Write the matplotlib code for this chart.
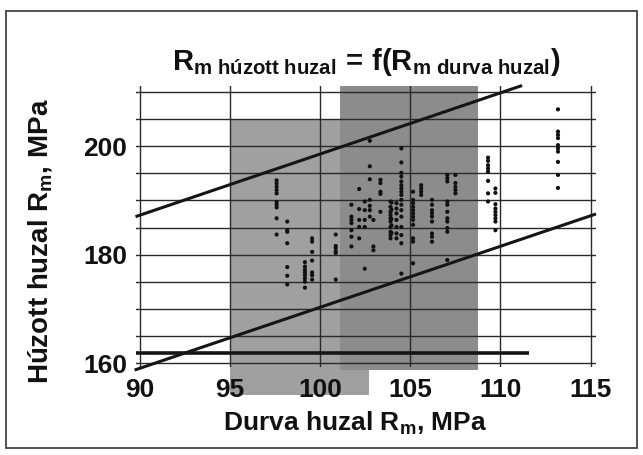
import matplotlib
matplotlib.use("Agg")
import matplotlib.pyplot as plt
from matplotlib.patches import Rectangle

plt.rcParams['font.family'] = ['Liberation Sans', 'DejaVu Sans']
plt.rcParams['mathtext.fontset'] = 'custom'
plt.rcParams['mathtext.rm'] = 'Liberation Sans'
plt.rcParams['mathtext.bf'] = 'Liberation Sans:bold'
plt.rcParams['mathtext.it'] = 'Liberation Sans:italic'

# ---------------- data ----------------
x_ticks = [90, 95, 100, 105, 110, 115]
y_grid = [160, 165, 170, 175, 180, 185, 190, 195, 200, 205, 210]
y_labelled = [160, 180, 200]

# measured points, grouped by column (x value, list of y values)
left_x = [97.58, 98.17, 99.15, 99.55, 100.86]
left_y = [
    [193.7, 193.1, 192.5, 191.9, 191.3, 189.7, 189.2, 188.7, 186.7, 183.7],
    [186.1, 184.5, 184.2, 182.1, 177.7, 176.1, 174.5],
    [178.6, 177.8, 177.2, 176.7, 176.2, 175.6, 175.0, 173.9],
    [183.0, 182.4, 180.5, 178.9, 176.7, 176.2, 175.4],
    [183.7, 181.6, 181.2, 180.6, 180.3, 175.4],
]
mid_x = [101.73, 102.16, 102.47, 102.75, 102.95, 103.34, 103.9, 103.95,
         104.23, 104.5, 105.15, 105.6, 106.2, 107.05, 107.5]
mid_y = [
    [189.2, 187.0, 186.4, 185.8, 184.5, 183.3, 181.5],
    [192.1, 188.4, 186.4, 185.1, 183.0],
    [189.8, 188.2, 186.4, 185.1, 177.4],
    [201.0, 196.3, 193.9, 190.1, 189.0, 188.2, 187.0],
    [186.4, 181.5, 180.8],
    [193.8, 193.2, 191.6, 191.2, 187.9],
    [189.8, 188.8, 187.9, 187.3, 186.7, 186.1, 185.1, 184.2, 183.6, 183.0],
    [189.6, 188.3, 186.6, 185.4, 184.0],
    [189.5, 188.5, 187.6, 186.4, 185.1, 183.9, 183.0],
    [199.6, 197.0, 195.1, 194.4, 193.5, 192.8, 192.2, 191.6, 191.0, 190.1,
     189.2, 188.2, 187.0, 185.1, 183.6, 182.1, 176.5],
    [191.6, 190.1, 189.5, 188.8, 188.2, 187.6, 187.0, 186.4, 185.5, 183.0,
     182.4, 178.4],
    [192.8, 192.2, 191.6, 191.0],
    [190.1, 189.2, 188.2, 187.6, 187.0, 186.1, 183.9, 183.3, 182.4],
    [194.7, 194.1, 193.5, 189.8, 189.2, 187.9, 186.7, 186.1, 184.9, 184.2, 179.0],
    [194.7, 193.2, 192.5, 191.9, 191.3],
]
right_x = [109.31, 109.72, 113.19]
right_y = [
    [197.9, 197.3, 196.5, 195.9, 195.3, 193.6, 191.3, 189.8],
    [192.2, 191.4, 189.3, 188.5, 187.9, 187.3, 186.7, 186.1, 184.5],
    [206.8, 202.7, 202.1, 201.5, 200.2, 199.6, 199.0, 197.1, 194.7, 192.3],
]

# band lines (end points)
upper_x = [89.75, 111.2]
upper_y = [187.0, 211.2]
lower_x = [89.7, 115.3]
lower_y = [158.7, 187.5]
limit_x = [89.75, 111.6]
limit_y = [161.9, 161.9]

# shaded ranges (x0, x1, y0, y1)
range_a = [95.0, 102.7, 154.1, 205.1]
range_b = [101.1, 108.75, 158.7, 211.2]

xlim = (89.75, 115.3)
ylim = (159.3, 211.2)

# ---------------- figure ----------------
W, H = 643, 455
fig = plt.figure(figsize=(W / 100, H / 100), dpi=100)
ax_left, ax_right, ax_top, ax_bottom = 135.5, 596.0, 85.5, 366.8
ax = fig.add_axes([ax_left / W, 1 - ax_bottom / H,
                   (ax_right - ax_left) / W, (ax_bottom - ax_top) / H])
ax.set_xlim(*xlim)
ax.set_ylim(*ylim)
for s in ax.spines.values():
    s.set_visible(False)

ax.add_patch(Rectangle((range_a[0], range_a[2]), range_a[1] - range_a[0],
                       range_a[3] - range_a[2], facecolor='#a0a0a0',
                       edgecolor='none', clip_on=False, zorder=1))
ax.add_patch(Rectangle((range_b[0], range_b[2]), range_b[1] - range_b[0],
                       range_b[3] - range_b[2], facecolor='#8c8c8c',
                       edgecolor='none', clip_on=False, zorder=1))

ax.set_xticks(x_ticks)
ax.set_xticklabels([str(v) for v in x_ticks])
ax.set_yticks(y_grid)
ax.set_yticklabels([str(v) if v in y_labelled else '' for v in y_grid])
ax.tick_params(length=0, labelsize=19, colors='#111111')
ax.tick_params(axis='x', pad=8)
ax.tick_params(axis='y', pad=6)
for lab in ax.get_xticklabels() + ax.get_yticklabels():
    lab.set_fontweight('bold')
ax.grid(True, color='#2a2a2a', linewidth=1.0, zorder=2)
ax.set_axisbelow(False)

ax.plot(upper_x, upper_y, color='#151515', lw=2.2, clip_on=False, zorder=3,
        solid_capstyle='butt')
ax.plot(lower_x, lower_y, color='#151515', lw=2.2, clip_on=False, zorder=3,
        solid_capstyle='butt')
ax.plot(limit_x, limit_y, color='#151515', lw=2.6, clip_on=False, zorder=3,
        solid_capstyle='butt')

for xs, ys in [(left_x, left_y), (mid_x, mid_y), (right_x, right_y)]:
    for xv, col in zip(xs, ys):
        ax.scatter([xv] * len(col), col, s=9, color='#111111',
                   edgecolors='none', zorder=4)

fig.text(366 / W, 1 - 70 / H,
         r"$\mathbf{R}_{\mathbf{m\ húzott\ huzal}}\mathbf{\,=\,f(R}_{\mathbf{m\ durva\ huzal}}\mathbf{)}$",
         ha='center', va='baseline', fontsize=21, color='#111111')
fig.text(355 / W, 1 - 423 / H, r"Durva huzal R$_{\mathbf{m}}$, MPa",
         ha='center', va='center', fontsize=19, fontweight='bold', color='#111111')
fig.text(40 / W, 1 - 241 / H, r"Húzott huzal R$_{\mathbf{m}}$, MPa",
         ha='center', va='center', rotation=90, fontsize=20,
         fontweight='bold', color='#111111')

fig.add_artist(Rectangle((6 / W, 1 - 448 / H), (637 - 6) / W, (448 - 11) / H,
                         transform=fig.transFigure, fill=False, lw=1.3,
                         edgecolor='#444444'))

fig.savefig('out.png', dpi=100)
